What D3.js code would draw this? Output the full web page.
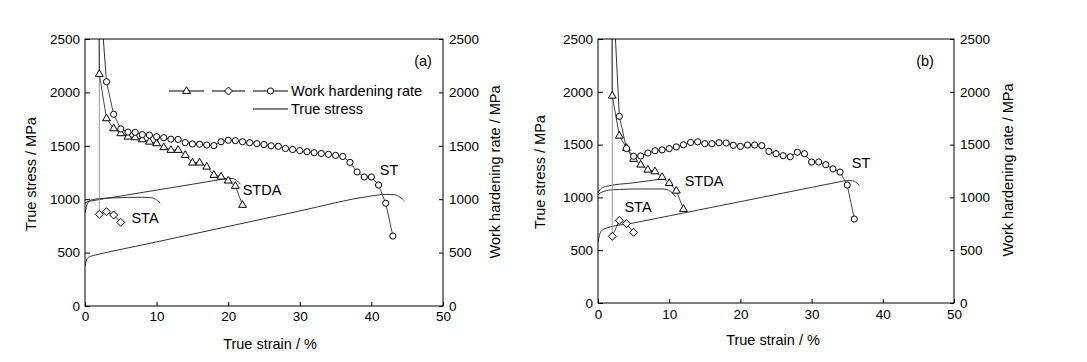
<!DOCTYPE html>
<html><head><meta charset="utf-8">
<script src="https://cdn.jsdelivr.net/npm/d3@7"></script>
<style>
body{margin:0;background:#fff;}
svg{display:block;}
text{font-family:"Liberation Sans",Arial,Helvetica,sans-serif;fill:#000;}
</style>
</head><body>
<svg id="chart" width="1087" height="362"></svg>
<script>
// ---------- tick labels ----------
const strainTicks = [0, 10, 20, 30, 40, 50];
const stressTicks = [0, 500, 1000, 1500, 2000, 2500];

// ---------- Panel (a): work hardening rate (MPa) vs true strain (%) ----------
const aSTStrain = [2,3,4,5,6,7,8,9,10,11,12,13,14,15,16,17,18,19,20,21,22,23,24,25,26,27,28,29,30,31,32,33,34,35,36,37,38,39,40,41,42,43];
const aSTWhr    = [3000,2100,1795,1658,1628,1626,1605,1600,1585,1576,1562,1560,1530,1517,1515,1507,1502,1538,1552,1548,1538,1529,1520,1512,1500,1495,1475,1465,1455,1445,1435,1428,1420,1410,1400,1345,1255,1208,1208,1133,962,655];
const aSTDAStrain = [1.9,2,3,4,5,6,7,8,9,10,11,12,13,14,15,16,17,18,19,20,21,22];
const aSTDAWhr    = [4000,2172,1757,1663,1617,1585,1579,1560,1538,1523,1486,1461,1461,1414,1342,1342,1304,1227,1211,1174,1124,946];
const aSTAStrain = [2,2,3,4,5];
const aSTAWhr    = [5000,858,883,852,783];

// ---------- Panel (a): true stress (MPa) vs true strain (%) ----------
const aSTCurveStrain = [0,0.15,0.4,0.8,1.5,5,10,20,30,40,42,43.2,44,44.6];
const aSTCurveStress = [370,420,450,465,478,530,600,745,890,1030,1045,1042,1020,985];
const aSTACurveStrain = [0,0.2,0.5,1,2,4,6,8,9,9.6,10.1,10.5];
const aSTACurveStress = [870,930,975,995,1005,1012,1017,1018,1016,1008,988,962];
const aSTDACurveStrain = [0,0.3,1,5,10,15,19,20,20.8,21.3,21.7];
const aSTDACurveStress = [965,975,985,1030,1085,1140,1185,1195,1190,1170,1140];

// ---------- Panel (b): work hardening rate ----------
const bSTStrain = [2,3,4,5,6,7,8,9,10,11,12,13,14,15,16,17,18,19,20,21,22,23,24,25,26,27,28,29,30,31,32,33,34,35,36];
const bSTWhr    = [3100,1767,1463,1390,1392,1420,1442,1450,1462,1478,1498,1520,1526,1509,1509,1518,1515,1493,1483,1496,1496,1490,1436,1414,1395,1385,1428,1414,1335,1335,1310,1270,1240,1117,795];
const bSTDAStrain = [1.9,2,3,4,5,6,7,8,9,10,11,12];
const bSTDAWhr    = [4000,1963,1584,1468,1364,1310,1262,1246,1193,1136,1063,890];
const bSTAStrain = [2,2,3,4,5];
const bSTAWhr    = [5000,631,782,751,669];

// ---------- Panel (b): true stress ----------
const bSTCurveStrain = [0,0.2,0.5,1,5,10,20,30,34,35,35.7,36.3,36.7];
const bSTCurveStress = [575,640,685,705,758,825,960,1095,1148,1160,1158,1140,1112];
const bSTDACurveStrain = [0,0.3,0.7,1.4,5,8.7,9.3];
const bSTDACurveStress = [1040,1075,1095,1108,1138,1172,1178];
const bSTACurveStrain = [0,0.4,0.9,1.5,3,6,9,9.6,10.2,10.6,10.9];
const bSTACurveStress = [1025,1045,1058,1068,1075,1080,1080,1075,1057,1030,1005];

// ---------- legend ----------
const legendWhrLabel = "Work hardening rate";
const legendStressLabel = "True stress";

const svg = d3.select("#chart");

function markerPath(type){
  if(type==="tri"){ return "M0,-4.3L3.9,2.4L-3.9,2.4Z"; }
  if(type==="dia"){ return "M0,-4L4,0L0,4L-4,0Z"; }
  return null;
}
function drawMarker(g, type, cx, cy){
  if(type==="circ"){
    g.append("circle").attr("cx",cx).attr("cy",cy).attr("r",3.1)
      .attr("fill","#fff").attr("stroke","#000").attr("stroke-width",1);
  } else {
    g.append("path").attr("d",markerPath(type)).attr("transform",`translate(${cx},${cy})`)
      .attr("fill","#fff").attr("stroke","#000").attr("stroke-width",1);
  }
}

function drawPanel(p){
  const x = d3.scaleLinear().domain([0,50]).range([p.left,p.right]);
  const y = d3.scaleLinear().domain([0,2500]).range([p.bottom,p.top]);
  const clipId = "clip-"+p.id;
  svg.append("clipPath").attr("id",clipId).append("rect")
    .attr("x",p.left).attr("y",p.top).attr("width",p.right-p.left).attr("height",p.bottom-p.top);
  const plot = svg.append("g").attr("clip-path",`url(#${clipId})`);

  const curve = d3.line().x(d=>x(d[0])).y(d=>y(d[1])).curve(d3.curveMonotoneX);
  p.stress.forEach(s=>{
    plot.append("path").datum(d3.zip(s.strain,s.stress)).attr("d",curve)
      .attr("fill","none").attr("stroke","#333").attr("stroke-width",1);
  });

  const seg = d3.line().x(d=>x(d[0])).y(d=>y(d[1]));
  p.whr.forEach(s=>{
    const pts = d3.zip(s.strain,s.whr);
    // leading segment from the off-scale first point
    plot.append("path").datum(pts.slice(0,2)).attr("d",seg)
      .attr("fill","none").attr("stroke",s.leadColor).attr("stroke-width",1);
    plot.append("path").datum(pts.slice(1)).attr("d",seg)
      .attr("fill","none").attr("stroke","#333").attr("stroke-width",0.9);
  });
  p.whr.forEach(s=>{
    d3.zip(s.strain,s.whr).forEach(d=>{
      if(d[1] <= 2500) drawMarker(plot, s.marker, x(d[0]), y(d[1]));
    });
  });

  // frame
  svg.append("rect").attr("x",p.left).attr("y",p.top)
    .attr("width",p.right-p.left).attr("height",p.bottom-p.top)
    .attr("fill","none").attr("stroke","#000").attr("stroke-width",1);

  const axL = svg.append("g").attr("transform",`translate(${p.left},0)`)
    .call(d3.axisLeft(y).tickValues(stressTicks).tickFormat(d3.format("d")).tickSizeInner(-5).tickSizeOuter(0).tickPadding(5));
  const axR = svg.append("g").attr("transform",`translate(${p.right},0)`)
    .call(d3.axisRight(y).tickValues(stressTicks).tickFormat(d3.format("d")).tickSizeInner(-4).tickSizeOuter(0).tickPadding(6));
  const axB = svg.append("g").attr("transform",`translate(0,${p.bottom})`)
    .call(d3.axisBottom(x).tickValues(strainTicks).tickFormat(d3.format("d")).tickSizeInner(-4).tickSizeOuter(0).tickPadding(p.xPad));
  [axL,axR,axB].forEach(a=>{
    a.select(".domain").remove();
    a.selectAll("line").attr("stroke","#000");
    a.selectAll("text").attr("font-size","13.5px").attr("font-family",'"Liberation Sans",Arial,sans-serif').attr("fill","#000");
  });

  svg.append("text").attr("transform",`translate(${p.yTitleX},${p.yTitleY}) rotate(-90)`)
    .attr("text-anchor","middle").attr("dy","0.35em").attr("font-size","14.5px").text("True stress / MPa");
  svg.append("text").attr("transform",`translate(${p.y2TitleX},${p.yTitleY-2}) rotate(-90)`)
    .attr("text-anchor","middle").attr("dy","0.35em").attr("font-size","14.5px").text("Work hardening rate / MPa");
  svg.append("text").attr("x",p.xTitleX).attr("y",p.xTitleY)
    .attr("text-anchor","middle").attr("font-size","14.5px").text("True strain / %");

  p.labels.forEach(l=>{
    svg.append("text").attr("x",l.x).attr("y",l.y).attr("text-anchor","middle").attr("dy","0.35em")
      .attr("font-size","14.5px").text(l.t);
  });
  return {x,y};
}

drawPanel({
  id:"a", left:85, right:443, top:39, bottom:306, xPad:5,
  yTitleX:31, yTitleY:174, y2TitleX:495, xTitleX:270, xTitleY:349,
  stress:[
    {strain:aSTCurveStrain, stress:aSTCurveStress},
    {strain:aSTACurveStrain, stress:aSTACurveStress},
    {strain:aSTDACurveStrain, stress:aSTDACurveStress}
  ],
  whr:[
    {strain:aSTAStrain, whr:aSTAWhr, marker:"dia", leadColor:"#999"},
    {strain:aSTDAStrain, whr:aSTDAWhr, marker:"tri", leadColor:"#333"},
    {strain:aSTStrain, whr:aSTWhr, marker:"circ", leadColor:"#333"}
  ],
  labels:[
    {t:"(a)", x:423, y:61},
    {t:"ST", x:389, y:170},
    {t:"STDA", x:262, y:190},
    {t:"STA", x:145, y:218}
  ]
});

drawPanel({
  id:"b", left:598, right:954, top:39, bottom:303, xPad:6,
  yTitleX:540, yTitleY:172, y2TitleX:1008, xTitleX:773, xTitleY:345,
  stress:[
    {strain:bSTCurveStrain, stress:bSTCurveStress},
    {strain:bSTACurveStrain, stress:bSTACurveStress},
    {strain:bSTDACurveStrain, stress:bSTDACurveStress}
  ],
  whr:[
    {strain:bSTAStrain, whr:bSTAWhr, marker:"dia", leadColor:"#999"},
    {strain:bSTDAStrain, whr:bSTDAWhr, marker:"tri", leadColor:"#333"},
    {strain:bSTStrain, whr:bSTWhr, marker:"circ", leadColor:"#333"}
  ],
  labels:[
    {t:"(b)", x:925, y:61},
    {t:"ST", x:861, y:163},
    {t:"STDA", x:704, y:181},
    {t:"STA", x:638, y:207}
  ]
});

// ---------- legend (panel a) ----------
const leg = svg.append("g");
const legY1 = 91, legY2 = 109;
[["tri",169,204],["dia",212,245],["circ",253,288]].forEach(m=>{
  leg.append("line").attr("x1",m[1]).attr("x2",m[2]).attr("y1",legY1).attr("y2",legY1)
    .attr("stroke","#000").attr("stroke-width",1);
  drawMarker(leg, m[0], (m[1]+m[2])/2, legY1);
});
leg.append("text").attr("x",291).attr("y",legY1).attr("dy","0.35em").attr("font-size","14.5px").text(legendWhrLabel);
leg.append("line").attr("x1",253).attr("x2",288).attr("y1",legY2).attr("y2",legY2)
  .attr("stroke","#000").attr("stroke-width",1);
leg.append("text").attr("x",291).attr("y",legY2).attr("dy","0.35em").attr("font-size","14.5px").text(legendStressLabel);
</script>
</body></html>
